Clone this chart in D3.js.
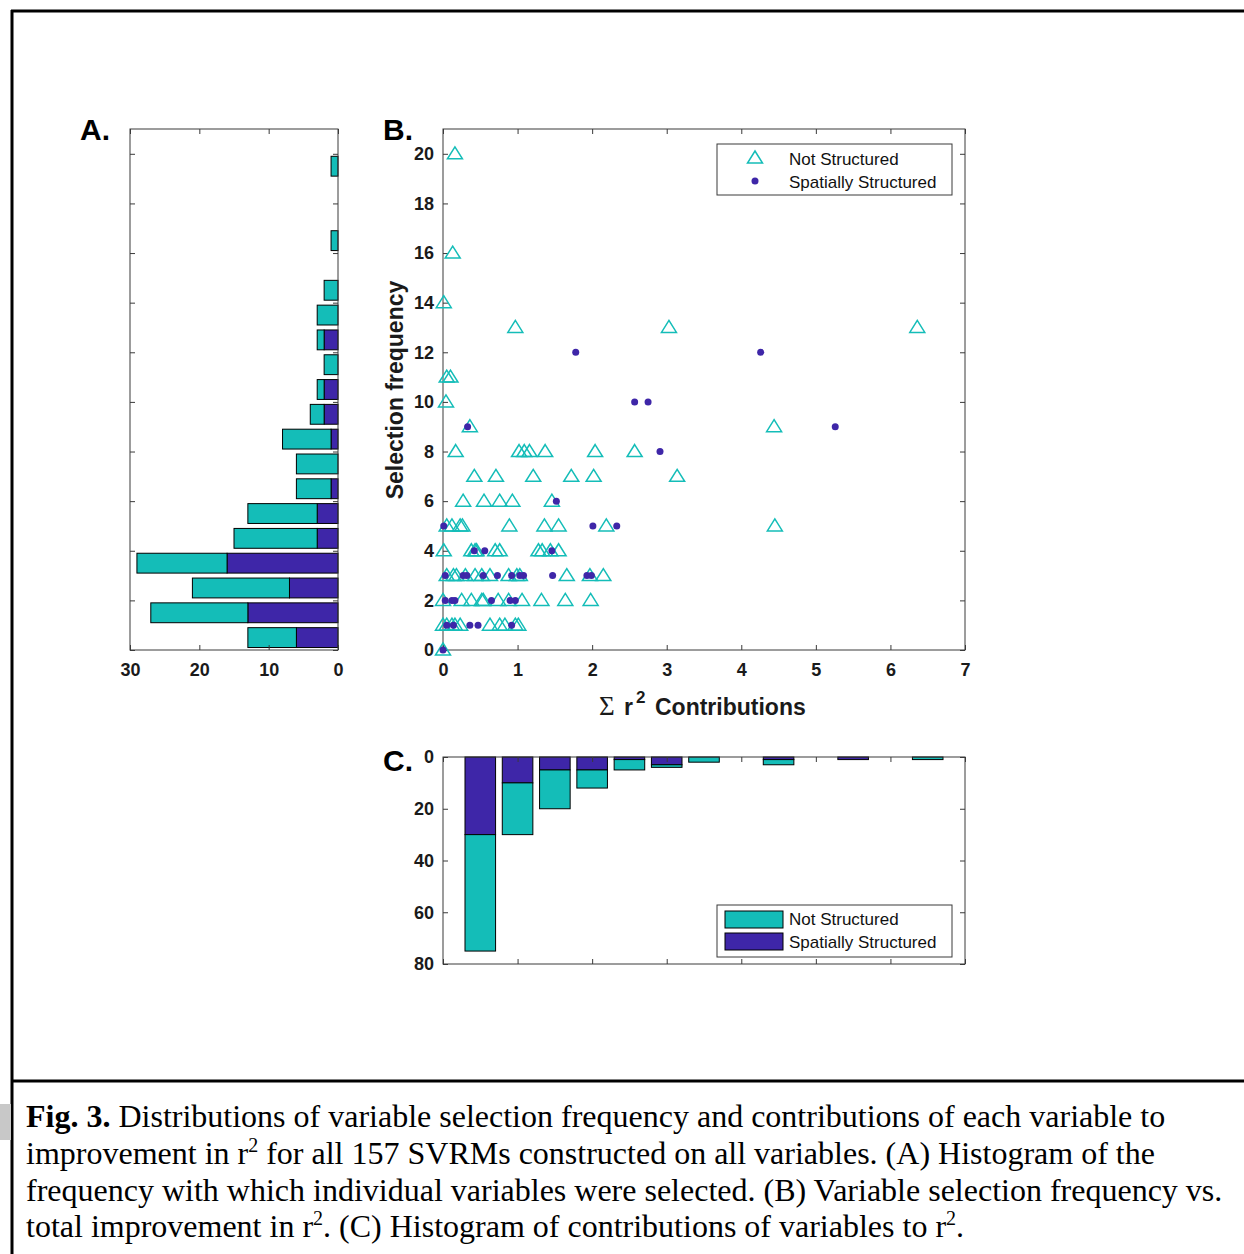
<!DOCTYPE html>
<html>
<head>
<meta charset="utf-8">
<script src="https://cdn.jsdelivr.net/npm/d3@7"></script>
<style>
body { margin: 0; background: #fff; }
svg text { font-family: "Liberation Sans", Arial, sans-serif; }
svg text.serif, svg text.serif tspan { font-family: "Liberation Serif", "Times New Roman", serif; }
</style>
</head>
<body>
<script>
// ---------- data ----------
var seriesNames = ["Not Structured", "Spatially Structured"];

// A. histogram of selection frequency (horizontal bars)
var freqBins      = [0.5,1.5,2.5,3.5,4.5,5.5,6.5,7.5,8.5,9.5,10.5,11.5,12.5,13.5,14.5,15.5,16.5,17.5,18.5,19.5];
var freqSpatial   = [6,13,7,16,3,3,1,0,1,2,2,0,2,0,0,0,0,0,0,0];
var freqNotStruct = [7,14,14,13,12,10,5,6,7,2,1,2,1,3,2,0,1,0,0,1];
var freqTicksA    = [30,20,10,0];

// B. scatter: sum r^2 contributions vs selection frequency
var notStructR2 = [0.16, 0.13, 0.01, 0.97,3.03,6.36, 0.05,0.10, 0.04, 0.36,4.44,
  0.17,1.02,1.09,1.16,1.37,2.04,2.57,
  0.42,0.71,1.21,1.72,2.02,3.14,
  0.27,0.55,0.76,0.93,1.46,
  0.05,0.12,0.23,0.26,0.89,1.36,1.55,2.19,4.45,
  0.01,0.38,0.43,0.45,0.70,0.76,1.28,1.33,1.44,1.55,
  0.05,0.14,0.18,0.30,0.43,0.52,0.63,0.88,0.99,1.03,1.66,1.97,2.15,
  0.00,0.25,0.38,0.52,0.54,0.74,0.88,1.06,1.32,1.64,1.98,
  0.00,0.05,0.12,0.16,0.23,0.63,0.76,0.83,0.97,1.01,
  0.00];
var notStructFreq = [20, 16, 14, 13,13,13, 11,11, 10, 9,9,
  8,8,8,8,8,8,8,
  7,7,7,7,7,7,
  6,6,6,6,6,
  5,5,5,5,5,5,5,5,5,
  4,4,4,4,4,4,4,4,4,4,
  3,3,3,3,3,3,3,3,3,3,3,3,3,
  2,2,2,2,2,2,2,2,2,2,2,
  1,1,1,1,1,1,1,1,1,1,
  0];
var spatialR2 = [1.78,4.26, 2.57,2.75, 0.33,5.26, 2.91, 1.52,
  0.01,2.01,2.33,
  0.42,0.56,1.46,
  0.03,0.27,0.32,0.54,0.73,0.92,1.03,1.08,1.47,1.93,1.99,
  0.03,0.12,0.16,0.65,0.90,0.97,
  0.05,0.14,0.36,0.47,0.92,
  0.00];
var spatialFreq = [12,12, 10,10, 9,9, 8, 6,
  5,5,5,
  4,4,4,
  3,3,3,3,3,3,3,3,3,3,3,
  2,2,2,2,2,2,
  1,1,1,1,1,
  0];
var xTicksB = [0,1,2,3,4,5,6,7];
var yTicksB = [0,2,4,6,8,10,12,14,16,18,20];

// C. histogram of contributions (bars hanging down)
var contribBins      = [0.5,1,1.5,2,2.5,3,3.5,4.5,5.5,6.5];
var contribSpatial   = [30,10,5,5,1,3,0,1,1,0];
var contribNotStruct = [45,20,15,7,4,1,2,2,0,1];
var yTicksC = [0,20,40,60,80];

// ---------- drawing ----------
var cyan = "#14bdb8", purple = "#3e26a8", boxColor = "#3a3a3a";
var triPath = "M0,-7L7.5,5L-7.5,5Z";

var svg = d3.select("body").append("svg")
    .attr("width", 1244)
    .attr("height", 1254);

// page frame
svg.append("line").attr("x1", 11).attr("y1", 11).attr("x2", 1244).attr("y2", 11)
   .attr("stroke", "#000").attr("stroke-width", 3);
svg.append("line").attr("x1", 12).attr("y1", 10).attr("x2", 12).attr("y2", 1254)
   .attr("stroke", "#000").attr("stroke-width", 3);
svg.append("line").attr("x1", 11).attr("y1", 1081).attr("x2", 1244).attr("y2", 1081)
   .attr("stroke", "#000").attr("stroke-width", 3);
svg.append("rect").attr("x", 0).attr("y", 1104).attr("width", 11).attr("height", 36)
   .attr("fill", "#c8c8c8");

function styleAxis(g, labels) {
  g.select(".domain").remove();
  g.selectAll("line").attr("stroke", boxColor);
  g.attr("font-family", null).attr("font-size", null);
  g.selectAll("text")
    .style("font-size", "18px")
    .style("font-weight", "bold")
    .attr("fill", "#1a1a1a");
  if (!labels) g.selectAll("text").remove();
}

function boxAxes(x, y, xTicks, yTicks, showX, showY) {
  var x0 = x.range()[0], x1 = x.range()[1];
  var y0 = y.range()[0], y1 = y.range()[1];
  var top = Math.min(y0, y1), bottom = Math.max(y0, y1);
  var left = Math.min(x0, x1), right = Math.max(x0, x1);
  var fmt = d3.format("d");

  svg.append("g").attr("transform", "translate(0," + bottom + ")")
     .call(d3.axisBottom(x).tickValues(xTicks).tickFormat(fmt).tickSize(-5).tickPadding(13))
     .call(styleAxis, showX);
  svg.append("g").attr("transform", "translate(0," + top + ")")
     .call(d3.axisTop(x).tickValues(xTicks).tickSize(-5))
     .call(styleAxis, false);
  svg.append("g").attr("transform", "translate(" + left + ",0)")
     .call(d3.axisLeft(y).tickValues(yTicks).tickFormat(fmt).tickSize(-5).tickPadding(9))
     .call(styleAxis, showY);
  svg.append("g").attr("transform", "translate(" + right + ",0)")
     .call(d3.axisRight(y).tickValues(yTicks).tickSize(-5))
     .call(styleAxis, false);

  svg.append("rect")
     .attr("x", left).attr("y", top)
     .attr("width", right - left).attr("height", bottom - top)
     .attr("fill", "none").attr("stroke", boxColor).attr("stroke-width", 1);
}

// ----- Panel A -----
var xA = d3.scaleLinear().domain([30, 0]).range([130, 338]);
var yA = d3.scaleLinear().domain([0, 21]).range([650, 129]);
var barA = (yA(0) - yA(1)) * 0.8;

var rowsA = freqBins.map(function(b, i) {
  return { bin: b, sp: freqSpatial[i], ns: freqNotStruct[i] };
});

svg.append("g").selectAll("rect")
   .data(rowsA.filter(function(d) { return d.sp > 0; }))
   .enter().append("rect")
   .attr("x", function(d) { return xA(d.sp); })
   .attr("y", function(d) { return yA(d.bin) - barA / 2; })
   .attr("width", function(d) { return xA(0) - xA(d.sp); })
   .attr("height", barA)
   .attr("fill", purple).attr("stroke", "#000").attr("stroke-width", 1);

svg.append("g").selectAll("rect")
   .data(rowsA.filter(function(d) { return d.ns > 0; }))
   .enter().append("rect")
   .attr("x", function(d) { return xA(d.sp + d.ns); })
   .attr("y", function(d) { return yA(d.bin) - barA / 2; })
   .attr("width", function(d) { return xA(d.sp) - xA(d.sp + d.ns); })
   .attr("height", barA)
   .attr("fill", cyan).attr("stroke", "#000").attr("stroke-width", 1);

boxAxes(xA, yA, freqTicksA, yTicksB, true, false);

// ----- Panel B -----
var xB = d3.scaleLinear().domain([0, 7]).range([443, 965]);
var yB = d3.scaleLinear().domain([0, 21]).range([650, 129]);

boxAxes(xB, yB, xTicksB, yTicksB, true, true);

svg.append("g").selectAll("path")
   .data(notStructR2.map(function(v, i) { return [v, notStructFreq[i]]; }))
   .enter().append("path")
   .attr("d", triPath)
   .attr("transform", function(d) { return "translate(" + xB(d[0]) + "," + yB(d[1]) + ")"; })
   .attr("fill", "none").attr("stroke", cyan).attr("stroke-width", 1.5);

svg.append("g").selectAll("circle")
   .data(spatialR2.map(function(v, i) { return [v, spatialFreq[i]]; }))
   .enter().append("circle")
   .attr("cx", function(d) { return xB(d[0]); })
   .attr("cy", function(d) { return yB(d[1]); })
   .attr("r", 3.5)
   .attr("fill", purple);

// legend B
svg.append("rect").attr("x", 717).attr("y", 144).attr("width", 235).attr("height", 51)
   .attr("fill", "#fff").attr("stroke", boxColor);
svg.append("path").attr("d", triPath).attr("transform", "translate(755,158)")
   .attr("fill", "none").attr("stroke", cyan).attr("stroke-width", 1.5);
svg.append("circle").attr("cx", 755).attr("cy", 181).attr("r", 3.5).attr("fill", purple);
svg.selectAll(".legB").data(seriesNames).enter().append("text")
   .attr("x", 789).attr("y", function(d, i) { return 165 + i * 23; })
   .style("font-size", "17px").attr("fill", "#111")
   .text(function(d) { return d; });

// axis labels B
svg.append("text")
   .attr("transform", "translate(403,390) rotate(-90)")
   .attr("text-anchor", "middle")
   .style("font-size", "23px").style("font-weight", "bold").attr("fill", "#1a1a1a")
   .text("Selection frequency");
svg.append("text").attr("class", "serif").attr("x", 599).attr("y", 715)
   .style("font-size", "27px").attr("fill", "#1a1a1a").text("\u03a3");
svg.append("text").attr("x", 624).attr("y", 715)
   .style("font-size", "23px").style("font-weight", "bold").attr("fill", "#1a1a1a").text("r");
svg.append("text").attr("x", 636).attr("y", 703)
   .style("font-size", "17px").style("font-weight", "bold").attr("fill", "#1a1a1a").text("2");
svg.append("text").attr("x", 655).attr("y", 715)
   .style("font-size", "23px").style("font-weight", "bold").attr("fill", "#1a1a1a").text("Contributions");

// ----- Panel C -----
var xC = d3.scaleLinear().domain([0, 7]).range([443, 965]);
var yC = d3.scaleLinear().domain([0, 80]).range([757, 964]);
var barC = (xC(0.5) - xC(0)) * 0.82;

var rowsC = contribBins.map(function(b, i) {
  return { bin: b, sp: contribSpatial[i], ns: contribNotStruct[i] };
});

svg.append("g").selectAll("rect")
   .data(rowsC.filter(function(d) { return d.sp > 0; }))
   .enter().append("rect")
   .attr("x", function(d) { return xC(d.bin) - barC / 2; })
   .attr("y", yC(0))
   .attr("width", barC)
   .attr("height", function(d) { return yC(d.sp) - yC(0); })
   .attr("fill", purple).attr("stroke", "#000").attr("stroke-width", 1);

svg.append("g").selectAll("rect")
   .data(rowsC.filter(function(d) { return d.ns > 0; }))
   .enter().append("rect")
   .attr("x", function(d) { return xC(d.bin) - barC / 2; })
   .attr("y", function(d) { return yC(d.sp); })
   .attr("width", barC)
   .attr("height", function(d) { return yC(d.sp + d.ns) - yC(d.sp); })
   .attr("fill", cyan).attr("stroke", "#000").attr("stroke-width", 1);

boxAxes(xC, yC, xTicksB, yTicksC, false, true);

// legend C
svg.append("rect").attr("x", 717).attr("y", 905).attr("width", 235).attr("height", 52)
   .attr("fill", "#fff").attr("stroke", boxColor);
svg.selectAll(".legC").data(seriesNames).enter().append("rect")
   .attr("x", 725).attr("y", function(d, i) { return 911 + i * 22; })
   .attr("width", 58).attr("height", 17)
   .attr("fill", function(d, i) { return i === 0 ? cyan : purple; })
   .attr("stroke", "#000");
svg.selectAll(".legCt").data(seriesNames).enter().append("text")
   .attr("x", 789).attr("y", function(d, i) { return 925 + i * 23; })
   .style("font-size", "17px").attr("fill", "#111")
   .text(function(d) { return d; });

// panel letters
[["A.", 80, 140], ["B.", 383, 140], ["C.", 383, 771]].forEach(function(p) {
  svg.append("text").attr("x", p[1]).attr("y", p[2])
     .style("font-size", "30px").style("font-weight", "bold").attr("fill", "#000")
     .text(p[0]);
});

// ----- caption -----
var cap = svg.append("g").attr("fill", "#000");

function capLine(y) {
  return cap.append("text").attr("class", "serif").attr("x", 26).attr("y", y)
            .style("font-size", "32px");
}

var l1 = capLine(1127);
l1.append("tspan").style("font-weight", "bold").text("Fig. 3.");
l1.append("tspan").text(" Distributions of variable selection frequency and contributions of each variable to");

var l2 = capLine(1164);
l2.append("tspan").text("improvement in r");
l2.append("tspan").attr("dy", -12).style("font-size", "20px").text("2");
l2.append("tspan").attr("dy", 12).text(" for all 157 SVRMs constructed on all variables. (A) Histogram of the");

capLine(1201)
   .text("frequency with which individual variables were selected. (B) Variable selection frequency vs.");

var l4 = capLine(1237);
l4.append("tspan").text("total improvement in r");
l4.append("tspan").attr("dy", -12).style("font-size", "20px").text("2");
l4.append("tspan").attr("dy", 12).text(". (C) Histogram of contributions of variables to r");
l4.append("tspan").attr("dy", -12).style("font-size", "20px").text("2");
l4.append("tspan").attr("dy", 12).text(".");
</script>
</body>
</html>
